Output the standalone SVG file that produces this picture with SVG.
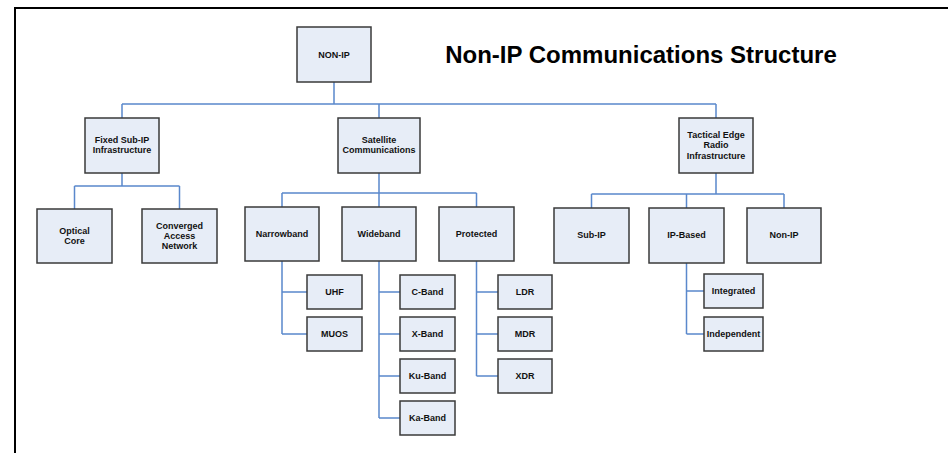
<svg xmlns="http://www.w3.org/2000/svg" width="948" height="453" viewBox="0 0 948 453">
<style>
.box{fill:#E7EDF7;stroke:#3A3A3A;stroke-width:1.5}
.t{font-family:"Liberation Sans",Arial,sans-serif;font-weight:bold;font-size:9px;fill:#111;text-anchor:middle}
.c{fill:none;stroke:#5A88CC;stroke-width:1.5}
</style>
<rect width="948" height="453" fill="#fff"/>
<path d="M15,453 V8 H948" fill="none" stroke="#000" stroke-width="2"/>
<text x="641" y="63" font-family="'Liberation Sans',Arial,sans-serif" font-weight="bold" font-size="24" text-anchor="middle" fill="#000">Non-IP Communications Structure</text>
<g id="connectors" class="c">
<path d="M334,82 V104 M122,104 H716 M122,104 V118 M379,104 V118 M716,104 V118"/>
<path d="M122,173 V186 M74.5,186 H179.5 M74.5,186 V209 M179.5,186 V209"/>
<path d="M379,173 V193 M282,193 H476.5 M282,193 V207 M379,193 V207 M476.5,193 V207"/>
<path d="M282,261 V334 M282,292 H307 M282,334 H307"/>
<path d="M379,261 V418 M379,292 H400 M379,334 H400 M379,376 H400 M379,418 H400"/>
<path d="M476.5,261 V376 M476.5,292 H498 M476.5,334 H498 M476.5,376 H498"/>
<path d="M716,173 V194 M591.5,194 H784 M591.5,194 V208 M686.5,194 V208 M784,194 V208"/>
<path d="M686.5,263 V334 M686.5,291 H704 M686.5,334 H704"/>
</g>
<g id="non-ip-root"><rect class="box" x="297" y="27" width="74" height="55"/><text class="t" x="334" y="57.5">NON-IP</text></g>
<g id="fixed"><rect class="box" x="85" y="118" width="74" height="55"/><text class="t" x="122" y="143">Fixed Sub-IP</text><text class="t" x="122" y="153">Infrastructure</text></g>
<g id="satellite"><rect class="box" x="338" y="118" width="82" height="55"/><text class="t" x="379" y="143">Satellite</text><text class="t" x="379" y="153">Communications</text></g>
<g id="tactical"><rect class="box" x="679" y="118" width="74" height="55"/><text class="t" x="716" y="137.5">Tactical Edge</text><text class="t" x="716" y="148">Radio</text><text class="t" x="716" y="158.5">Infrastructure</text></g>
<g id="optical"><rect class="box" x="37" y="209" width="75" height="54"/><text class="t" x="74.5" y="234">Optical</text><text class="t" x="74.5" y="244">Core</text></g>
<g id="converged"><rect class="box" x="142" y="209" width="75" height="54"/><text class="t" x="179.5" y="229">Converged</text><text class="t" x="179.5" y="239">Access</text><text class="t" x="179.5" y="249">Network</text></g>
<g id="narrowband"><rect class="box" x="245" y="207" width="74" height="54"/><text class="t" x="282" y="237">Narrowband</text></g>
<g id="wideband"><rect class="box" x="342" y="207" width="74" height="54"/><text class="t" x="379" y="237">Wideband</text></g>
<g id="protected"><rect class="box" x="439" y="207" width="75" height="54"/><text class="t" x="476.5" y="237">Protected</text></g>
<g id="sub-ip"><rect class="box" x="554" y="208" width="75" height="55"/><text class="t" x="591.5" y="238">Sub-IP</text></g>
<g id="ip-based"><rect class="box" x="649" y="208" width="75" height="55"/><text class="t" x="686.5" y="238">IP-Based</text></g>
<g id="non-ip"><rect class="box" x="747" y="208" width="74" height="55"/><text class="t" x="784" y="238">Non-IP</text></g>
<g id="uhf"><rect class="box" x="307" y="275" width="55" height="34"/><text class="t" x="334.5" y="295">UHF</text></g>
<g id="muos"><rect class="box" x="307" y="317" width="55" height="34"/><text class="t" x="334.5" y="337">MUOS</text></g>
<g id="c-band"><rect class="box" x="400" y="275" width="55" height="34"/><text class="t" x="427.5" y="295">C-Band</text></g>
<g id="x-band"><rect class="box" x="400" y="317" width="55" height="34"/><text class="t" x="427.5" y="337">X-Band</text></g>
<g id="ku-band"><rect class="box" x="400" y="359" width="55" height="34"/><text class="t" x="427.5" y="379">Ku-Band</text></g>
<g id="ka-band"><rect class="box" x="400" y="401" width="55" height="34"/><text class="t" x="427.5" y="421">Ka-Band</text></g>
<g id="ldr"><rect class="box" x="498" y="275" width="54" height="34"/><text class="t" x="525" y="295">LDR</text></g>
<g id="mdr"><rect class="box" x="498" y="317" width="54" height="34"/><text class="t" x="525" y="337">MDR</text></g>
<g id="xdr"><rect class="box" x="498" y="359" width="54" height="34"/><text class="t" x="525" y="379">XDR</text></g>
<g id="integrated"><rect class="box" x="704" y="274" width="59" height="34"/><text class="t" x="733.5" y="294">Integrated</text></g>
<g id="independent"><rect class="box" x="704" y="317" width="59" height="34"/><text class="t" x="733.5" y="337">Independent</text></g>
</svg>
